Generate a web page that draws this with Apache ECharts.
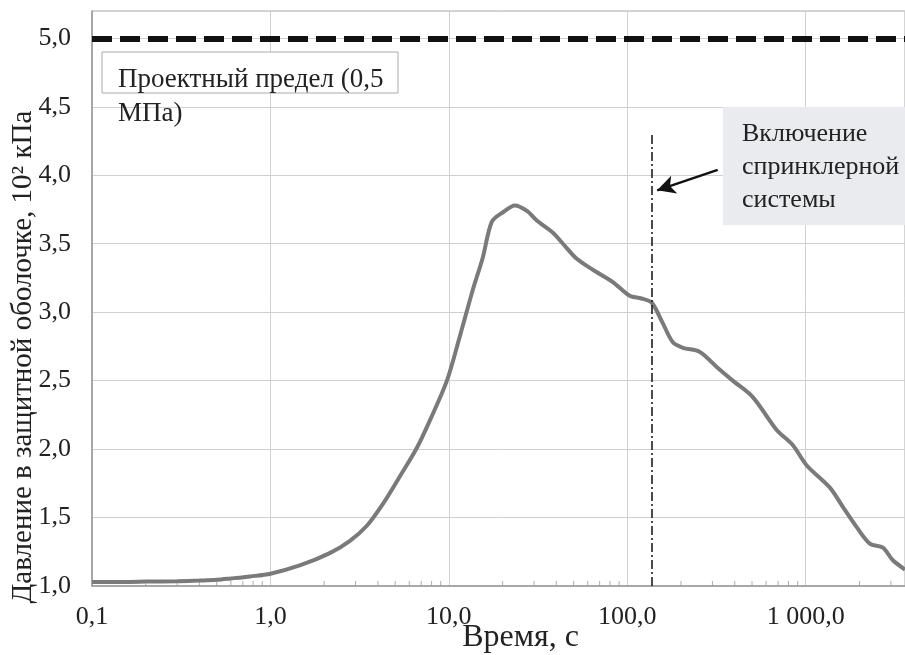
<!DOCTYPE html>
<html><head><meta charset="utf-8">
<script src="https://cdn.jsdelivr.net/npm/echarts@6/dist/echarts.min.js"></script>
<style>html,body{margin:0;padding:0;background:#fff}#c{width:905px;height:655px}</style>
</head><body><div id="c"></div><script>
// time, s
const timeS = [0.1,0.15,0.2,0.3,0.4,0.5,0.6,0.77,1.0,1.46,2.15,2.79,3.47,4.27,5.31,6.62,7.83,9.75,11.5,13.6,15.5,17.4,20.1,23.4,27.4,31.1,38.3,43.6,52.1,64.1,83,103,120,137,158,180,205,255,317,390,505,687,845,1014,1362,1611,1930,2285,2706,3070,3600];
// pressure, 10^2 kPa
const pressure = [1.03,1.03,1.032,1.035,1.04,1.045,1.055,1.07,1.09,1.15,1.24,1.33,1.44,1.60,1.80,2.01,2.21,2.50,2.82,3.16,3.40,3.66,3.73,3.78,3.74,3.67,3.58,3.50,3.39,3.31,3.22,3.12,3.10,3.07,2.92,2.78,2.74,2.71,2.60,2.50,2.38,2.14,2.03,1.88,1.72,1.58,1.43,1.31,1.28,1.19,1.12];
const xMin = 0.1, xMax = 3600;
const yMin = 1.0, yMax = 5.2, yStep = 0.5;
const majorDecades = [0.1, 1, 10, 100, 1000];
const minorSteps = [2,3,4,5,6,7,8,9];
const designLimit = 5.0;
const sprinklerTime = 137;
const sprinklerLineTop = 4.3;
const arrowFrom = [321, 4.04];
const arrowTo = [147, 3.89];
const limitText = 'Проектный предел (0,5\nМПа)';
const sprinklerText = 'Включение\nспринклерной\nсистемы';
const xTitle = 'Время, с';
const yTitle = 'Давление в защитной оболочке, 10² кПа';

const FONT = 'Liberation Serif';
function fmtX(v){
  const s = (Math.round(v*10)/10).toFixed(1);
  let [ip, fp] = s.split('.');
  ip = ip.replace(/\B(?=(\d{3})+(?!\d))/g, ' ');
  return ip + ',' + fp;
}
const minorTickData = [];
majorDecades.forEach(d => minorSteps.forEach(k => { const v = +(d*k).toPrecision(3); if (v < xMax) minorTickData.push([v, yMin]); }));

const chart = echarts.init(document.getElementById('c'));
chart.setOption({
  animation:false,
  backgroundColor:'#fff',
  grid:{left:92,right:0,top:11,bottom:69,show:true,borderColor:'#aaa',borderWidth:1,containLabel:false,outerBoundsMode:'none'},
  xAxis:{
    type:'log', logBase:10, min:xMin, max:xMax,
    name:xTitle, nameLocation:'middle', nameGap:36, nameMoveOverlap:false,
    nameTextStyle:{fontFamily:FONT,fontSize:32,color:'#222',padding:[0,0,0,44]},
    axisLine:{show:true,lineStyle:{color:'#999',width:1.5}},
    axisTick:{show:false},
    axisLabel:{fontFamily:FONT,fontSize:26,color:'#222',margin:18,showMaxLabel:false,formatter:fmtX},
    splitLine:{show:true,lineStyle:{color:'#d0d0d0',width:1}}
  },
  yAxis:{
    type:'value', min:yMin, max:yMax, interval:yStep,
    axisLine:{show:true,lineStyle:{color:'#999',width:1.5}},
    axisTick:{show:false},
    axisLabel:{fontFamily:FONT,fontSize:26,color:'#222',margin:21,showMaxLabel:false,
      formatter:v=>v.toFixed(1).replace('.',',')},
    splitLine:{show:true,lineStyle:{color:'#d0d0d0',width:1}}
  },
  series:[{
    type:'line',
    data:timeS.map((t,i)=>[t,pressure[i]]),
    symbol:'none', smooth:0.3,
    lineStyle:{color:'#7a7a7a',width:4},
    z:3,
    markLine:{
      silent:true, symbol:'none', animation:false,
      label:{show:false},
      data:[
        [{coord:[xMin,designLimit],lineStyle:{color:'#111',width:6,type:[20,8]}},{coord:[xMax,designLimit]}],
        [{coord:[sprinklerTime,yMin],lineStyle:{color:'#111',width:1.5,type:[9,3,2,3]}},{coord:[sprinklerTime,sprinklerLineTop]}],
        [{coord:arrowFrom,symbol:'none',lineStyle:{color:'#111',width:2.5,type:'solid'}},{coord:arrowTo,symbol:'arrow',symbolSize:[14,18]}]
      ]
    }
  },{
    type:'scatter',
    data:minorTickData,
    symbol:'rect', symbolSize:[1,5], symbolOffset:[0,-2.5],
    itemStyle:{color:'#999'}, silent:true, z:2
  }],
  graphic:[
    {type:'rect',shape:{x:102,y:52,width:296,height:41},style:{fill:'#fff',stroke:'#aaa',lineWidth:1},z:10},
    {type:'text',x:118,y:63,z:11,style:{text:limitText,font:'27px "'+FONT+'"',fill:'#222',lineHeight:34}},
    {type:'rect',shape:{x:723,y:107,width:182,height:118},style:{fill:'#e9ebee'},z:10},
    {type:'text',x:742,y:118,z:11,style:{text:sprinklerText,font:'26px "'+FONT+'"',fill:'#222',lineHeight:33}},
    {type:'text',x:23,y:357,rotation:Math.PI/2,z:11,style:{text:yTitle,font:'29px "'+FONT+'"',fill:'#222',align:'center',verticalAlign:'middle'}}
  ]
});
</script></body></html>
